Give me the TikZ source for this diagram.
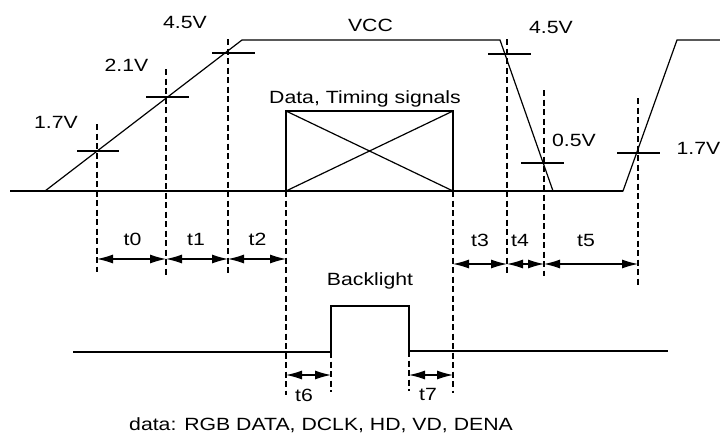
\documentclass[tikz,border=0pt]{standalone}
\usepackage{fontspec}
\setmainfont{Liberation Sans}
\usepackage{graphicx}
\usetikzlibrary{arrows.meta}
\newcommand\sx[1]{\scalebox{1.2}[1]{#1}}
\tikzset{
  wave/.style={line width=1.2pt, line join=miter},
  tick/.style={line width=1.2pt},
  guide/.style={line width=1.1pt, dash pattern=on 6pt off 3.5pt},
  dim/.style={line width=1.1pt, {Latex[length=16pt,width=9pt]}-{Latex[length=16pt,width=9pt]}},
  lbl/.style={inner sep=0pt, anchor=base, font=\fontsize{17.7}{20}\selectfont},
}
\begin{document}
\begin{tikzpicture}[x=1pt, y=-1pt]
\useasboundingbox (0,0) rectangle (720,434);
% main waveform coordinates
\coordinate (b0) at (10,191);
\coordinate (r0) at (45,191);
\coordinate (r1) at (242,40);
\coordinate (f0) at (500,40);
\coordinate (f1) at (553,191);
\coordinate (u0) at (623,191);
\coordinate (u1) at (677,40);
\coordinate (u2) at (720,40);
\draw[wave] (b0) -- (u0);
\draw[wave] (b0) -- (r0) -- (r1) -- (f0) -- (f1) -- (u0) -- (u1) -- (u2);
% voltage ticks
\coordinate (k1a) at (77,151); \coordinate (k1b) at (119,151);
\coordinate (k2a) at (146,97); \coordinate (k2b) at (189,97);
\coordinate (k3a) at (212,53); \coordinate (k3b) at (255,53);
\coordinate (k4a) at (488,54); \coordinate (k4b) at (531,54);
\coordinate (k5a) at (521,163); \coordinate (k5b) at (564,163);
\coordinate (k6a) at (617,153); \coordinate (k6b) at (660,153);
\draw[tick] (k1a) -- (k1b);
\draw[tick] (k2a) -- (k2b);
\draw[tick] (k3a) -- (k3b);
\draw[tick] (k4a) -- (k4b);
\draw[tick] (k5a) -- (k5b);
\draw[tick] (k6a) -- (k6b);
% data box
\coordinate (d1) at (286,111); \coordinate (d2) at (453,111);
\coordinate (d3) at (453,191); \coordinate (d4) at (286,191);
\draw[wave] (d1) -- (d2) -- (d3) -- (d4) -- cycle;
\draw[wave] (d1) -- (d3);
\draw[wave] (d2) -- (d4);
% dashed guides
\coordinate (g0t) at (97,124);  \coordinate (g0b) at (97,272);
\coordinate (g1t) at (166,69);  \coordinate (g1b) at (166,277);
\coordinate (g2t) at (228,39);  \coordinate (g2b) at (228,276);
\coordinate (g3b) at (286,395);
\coordinate (g4b) at (453,393);
\coordinate (g5t) at (507,39);  \coordinate (g5b) at (507,276);
\coordinate (g6t) at (544,90);  \coordinate (g6b) at (544,276);
\coordinate (g7t) at (638,98);  \coordinate (g7b) at (638,285);
\draw[guide] (g0t) -- (g0b);
\draw[guide] (g1t) -- (g1b);
\draw[guide] (g2t) -- (g2b);
\draw[guide] (d4) -- (g3b);
\draw[guide] (d3) -- (g4b);
\draw[guide] (g5t) -- (g5b);
\draw[guide] (g6t) -- (g6b);
\draw[guide] (g7t) -- (g7b);
% dimension arrows
\coordinate (a0) at (97,259); \coordinate (a1) at (166,259);
\coordinate (a2) at (228,259); \coordinate (a3) at (286,259);
\coordinate (c0) at (453,264); \coordinate (c1) at (507,264);
\coordinate (c2) at (544,264); \coordinate (c3) at (638,264);
\draw[dim] (a0) -- (a1);
\draw[dim] (a1) -- (a2);
\draw[dim] (a2) -- (a3);
\draw[dim] (c0) -- (c1);
\draw[dim] (c1) -- (c2);
\draw[dim] (c2) -- (c3);
% backlight
\coordinate (bl0) at (73,352);
\coordinate (bl1) at (331,352);
\coordinate (bl2) at (331,306);
\coordinate (bl3) at (409,306);
\coordinate (bl4) at (409,351);
\coordinate (bl5) at (668,351);
\draw[wave] (bl0) -- (bl1) -- (bl2) -- (bl3) -- (bl4) -- (bl5);
\coordinate (bg1) at (331,392);
\coordinate (bg2) at (409,391);
\draw[guide] (bl1) -- (bg1);
\draw[guide] (bl4) -- (bg2);
\coordinate (e0) at (286,375); \coordinate (e1) at (331,375);
\coordinate (e2) at (409,375); \coordinate (e3) at (453,375);
\draw[dim] (e0) -- (e1);
\draw[dim] (e2) -- (e3);
% labels
\node[lbl] (l45a) at (185,28) {\sx{4.5V}};
\node[lbl] (l21) at (126.5,71) {\sx{2.1V}};
\node[lbl] (l17a) at (56,128) {\sx{1.7V}};
\node[lbl] (lvcc) at (370.5,31) {\sx{VCC}};
\node[lbl] (l45b) at (551,33) {\sx{4.5V}};
\node[lbl] (l05) at (574,146) {\sx{0.5V}};
\node[lbl] (l17b) at (698.5,154) {\sx{1.7V}};
\node[lbl] (ldata) at (365,103) {\sx{Data, Timing signals}};
\node[lbl] (t0) at (132.5,245.5) {\sx{t0}};
\node[lbl] (t1) at (196,245.5) {\sx{t1}};
\node[lbl] (t2) at (257.5,245.5) {\sx{t2}};
\node[lbl] (t3) at (480,246) {\sx{t3}};
\node[lbl] (t4) at (520,246) {\sx{t4}};
\node[lbl] (t5) at (586,246) {\sx{t5}};
\node[lbl] (lbl) at (370,285) {\sx{Backlight}};
\node[lbl] (t6) at (304,401.5) {\sx{t6}};
\node[lbl] (t7) at (428,400) {\sx{t7}};
\node[lbl] (lnote) at (321,430) {\sx{data: RGB DATA, DCLK, HD, VD, DENA}};
\end{tikzpicture}
\end{document}
